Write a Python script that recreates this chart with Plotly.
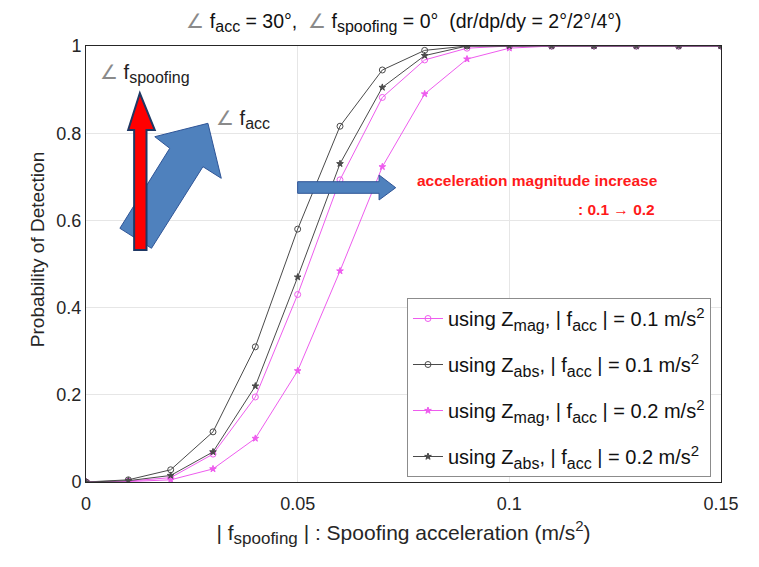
import plotly.graph_objects as go

x_vals = [0, 0.01, 0.02, 0.03, 0.04, 0.05, 0.06, 0.07, 0.08, 0.09, 0.10, 0.11, 0.12, 0.13, 0.14, 0.15]

zmag_01 = [0, 0.002, 0.010, 0.064, 0.195, 0.430, 0.693, 0.882, 0.968, 0.995, 1, 1, 1, 1, 1, 1]
zabs_01 = [0, 0.005, 0.028, 0.115, 0.310, 0.580, 0.816, 0.945, 0.990, 1, 1, 1, 1, 1, 1, 1]
zmag_02 = [0, 0.001, 0.005, 0.030, 0.100, 0.255, 0.484, 0.723, 0.890, 0.970, 0.995, 1, 1, 1, 1, 1]
zabs_02 = [0, 0.003, 0.015, 0.069, 0.220, 0.470, 0.730, 0.905, 0.978, 1, 1, 1, 1, 1, 1, 1]

x_ticks = [0, 0.05, 0.1, 0.15]
x_ticktext = ["0", "0.05", "0.1", "0.15"]
y_ticks = [0, 0.2, 0.4, 0.6, 0.8, 1]
y_ticktext = ["0", "0.2", "0.4", "0.6", "0.8", "1"]


def sub(t, s):
    return f"<sub><span style='font-size:{s}px'>{t}</span></sub>"


def sup(t, s):
    return f"<sup><span style='font-size:{s}px'>{t}</span></sup>"


ANG = "<span style='color:#8a8a8a'>∠</span>"

names = [
    f"using Z{sub('mag', 16)}, | f{sub('acc', 16)} | = 0.1 m/s{sup('2', 15)}",
    f"using Z{sub('abs', 16)}, | f{sub('acc', 16)} | = 0.1 m/s{sup('2', 15)}",
    f"using Z{sub('mag', 16)}, | f{sub('acc', 16)} | = 0.2 m/s{sup('2', 15)}",
    f"using Z{sub('abs', 16)}, | f{sub('acc', 16)} | = 0.2 m/s{sup('2', 15)}",
]

MAG = "#EE5CEE"
BLK = "#4a4a4a"
FONT = "Liberation Sans, Arial, sans-serif"

fig = go.Figure()
series = [
    (zmag_01, MAG, "circle-open", 6),
    (zabs_01, BLK, "circle-open", 6),
    (zmag_02, MAG, "star", 5),
    (zabs_02, BLK, "star", 5),
]
for i, ((ys, col, sym, sz), nm) in enumerate(zip(series, names)):
    fig.add_trace(go.Scatter(
        x=x_vals, y=ys, mode="lines+markers", name=nm, legendgroup=f"g{i}",
        line=dict(color=col, width=1),
        marker=dict(symbol=sym, size=sz, color=col, line=dict(color=col, width=1)),
    ))

OFF = 8  # page body margin
W, H = 759 - 2 * OFF, 567 - 2 * OFF
L, T = 86 - OFF, 46 - OFF
pw, ph = 637, 436
R, B = W - L - pw, H - T - ph


def P(px, py):
    return ((px - OFF - L) / pw, (OFF + T + ph - py) / ph)


def path(pts):
    s = ""
    for i, (px, py) in enumerate(pts):
        xp, yp = P(px, py)
        s += ("M" if i == 0 else "L") + f"{xp:.5f},{yp:.5f} "
    return s + "Z"


blue_fill = "#4F81BD"
blue_line = "#2F5597"

diag = [(120, 228.3), (151.7, 248.3), (203.3, 166.7), (221.7, 178.3),
        (208.3, 123.3), (155, 136.7), (170, 148.3)]
red = [(134.3, 250), (146.7, 250), (146.7, 130), (155, 130), (140, 93.3),
       (128.3, 130), (134.3, 130)]
horiz = [(298.3, 181.7), (380, 181.7), (380, 175), (396.7, 187.7),
         (380, 200), (380, 193.3), (298.3, 193.3)]

shapes = [
    dict(type="path", path=path(diag), xref="paper", yref="paper",
         fillcolor=blue_fill, line=dict(color=blue_line, width=1)),
    dict(type="path", path=path(red), xref="paper", yref="paper",
         fillcolor="#FF0000", line=dict(color="#1F3864", width=2)),
    dict(type="path", path=path(horiz), xref="paper", yref="paper",
         fillcolor=blue_fill, line=dict(color=blue_line, width=1)),
]

annotations = []


def ann(text, px, py, size, color="#222222", xanchor="left", yanchor="middle",
        bold=False, angle=0):
    xp, yp = P(px, py)
    if bold:
        text = "<b>" + text + "</b>"
    annotations.append(dict(text=text, x=xp, y=yp, xref="paper", yref="paper",
                            showarrow=False, xanchor=xanchor, yanchor=yanchor,
                            textangle=angle,
                            font=dict(size=size, color=color, family=FONT)))


ann(f"{ANG} f{sub('spoofing', 16)}", 98, 74, 20)
ann(f"{ANG} f{sub('acc', 16)}", 214, 120, 20)
ann("acceleration magnitude increase", 416, 180, 15.5, color="#FF1A1A", bold=True)
ann(": 0.1 → 0.2", 659, 209, 15.5, color="#FF1A1A", xanchor="right", bold=True)
ann("Probability of Detection", 37, 250, 19, color="#262626", xanchor="center", angle=-90)

fig.update_layout(
    width=W, height=H,
    margin=dict(l=L, r=R, t=T, b=B),
    paper_bgcolor="white", plot_bgcolor="white",
    font=dict(family=FONT, size=18, color="#262626"),
    title=dict(text=f"{ANG} f{sub('acc', 16)} = 30°,  {ANG} f{sub('spoofing', 16)} = 0°  (dr/dp/dy = 2°/2°/4°)",
               x=(404 - OFF) / W, xanchor="center", y=1 - (21 - OFF) / H, yanchor="middle",
               font=dict(size=19.5, color="#111", family=FONT)),
    xaxis=dict(range=[0, 0.15], tickvals=x_ticks, ticktext=x_ticktext,
               showgrid=True, gridcolor="#E6E6E6", zeroline=False,
               showline=True, linecolor="#262626", linewidth=1, mirror=True,
               ticks="", tickfont=dict(size=18), ticklabelstandoff=5,
               title=dict(text=f"| f{sub('spoofing', 17)} | : Spoofing acceleration (m/s{sup('2', 15)})",
                          font=dict(size=21), standoff=12)),
    yaxis=dict(range=[0, 1], tickvals=y_ticks, ticktext=y_ticktext,
               showgrid=True, gridcolor="#E6E6E6", zeroline=False,
               showline=True, linecolor="#262626", linewidth=1, mirror=True,
               ticks="", tickfont=dict(size=18)),
    legend=dict(x=P(408, 298)[0], y=P(408, 298)[1], xanchor="left", yanchor="top",
                bgcolor="white", bordercolor="#8C8C8C", borderwidth=1,
                font=dict(size=20, color="#111"), itemwidth=30,
                tracegroupgap=17),
    shapes=shapes,
    annotations=annotations,
    showlegend=True,
)

fig.write_html("out.html")
